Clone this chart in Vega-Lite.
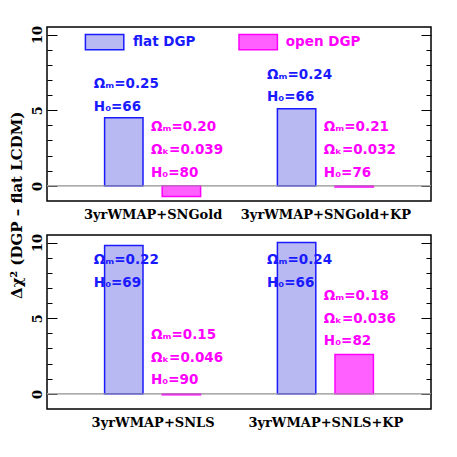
{
  "$schema": "https://vega.github.io/schema/vega-lite/v6.json",
  "padding": {"left": 10, "top": 24, "right": 5, "bottom": 5},
  "title": {"text": "Δχ² (DGP – flat LCDM)", "orient": "left", "anchor": "middle", "font": "DejaVu Serif", "fontSize": 15, "fontWeight": "bold", "color": "black", "offset": 5, "dx": 22},
  "config": {
    "view": {"stroke": "black", "strokeWidth": 1.5},
    "axis": {"grid": false, "domain": false, "tickColor": "black", "labelColor": "black", "labelFont": "DejaVu Serif", "labelFontWeight": "bold", "labelFontSize": 13}
  },
  "spacing": 10,
  "vconcat": [
    {
      "width": 384, "height": 174,
      "resolve": {"axis": {"y": "independent"}},
      "layer": [
        {
          "data": {"values": [{"z": 0}]},
          "mark": {"type": "rule", "color": "#a0a0a0", "strokeWidth": 1},
          "encoding": {
            "y": {"field": "z", "type": "quantitative", "scale": {"domain": [-1, 10.5], "nice": false, "zero": false},
                  "axis": {"orient": "left", "values": [0, 1, 2, 3, 4, 5, 6, 7, 8, 9, 10],
                           "tickSize": {"condition": {"test": "datum.value % 5 === 0", "value": -10}, "value": -5},
                           "labelExpr": "datum.value % 5 === 0 ? datum.label : ''",
                           "labelAngle": -90, "labelPadding": 13, "title": null}}
          }
        },
        {
          "data": {"values": [
            {"grp": "flat", "x0": 1.5, "x1": 2.5, "v": 4.5},
            {"grp": "open", "x0": 3.0, "x1": 4.0, "v": -0.7},
            {"grp": "flat", "x0": 6.0, "x1": 7.0, "v": 5.1},
            {"grp": "open", "x0": 7.5, "x1": 8.5, "v": -0.08}
          ]},
          "mark": {"type": "rect", "strokeWidth": 1.5},
          "encoding": {
            "x": {"field": "x0", "type": "quantitative", "scale": {"domain": [0, 10], "nice": false},
                  "axis": {"orient": "bottom", "values": [2.75, 7.25], "ticks": false, "labelPadding": 7, "title": null,
                           "labelExpr": "datum.value < 5 ? '3yrWMAP+SNGold' : '3yrWMAP+SNGold+KP'"}},
            "x2": {"field": "x1"},
            "y": {"field": "v", "type": "quantitative", "axis": null},
            "y2": {"datum": 0},
            "fill": {"field": "grp", "type": "nominal", "scale": {"domain": ["flat", "open"], "range": ["#b8b8f2", "#ff60ff"]}, "legend": null},
            "stroke": {"field": "grp", "type": "nominal", "scale": {"domain": ["flat", "open"], "range": ["#1a1aff", "#ff00ff"]}, "legend": null}
          }
        },
        {
          "data": {"values": [
            {"grp": "flat", "x0": 1.0, "x1": 2.0, "y0": 9.0, "y1": 10.0},
            {"grp": "open", "x0": 5.0, "x1": 6.0, "y0": 9.0, "y1": 10.0}
          ]},
          "mark": {"type": "rect", "strokeWidth": 1.5},
          "encoding": {
            "x": {"field": "x0", "type": "quantitative"},
            "x2": {"field": "x1"},
            "y": {"field": "y0", "type": "quantitative", "axis": null},
            "y2": {"field": "y1"},
            "fill": {"field": "grp", "type": "nominal", "legend": null},
            "stroke": {"field": "grp", "type": "nominal", "legend": null}
          }
        },
        {
          "data": {"values": [
            {"grp": "flat", "x": 2.24, "y": 9.5, "t": "flat DGP"},
            {"grp": "open", "x": 6.22, "y": 9.5, "t": "open DGP"},
            {"grp": "flat", "x": 1.22, "y": 6.75, "t": "Ωₘ=0.25"},
            {"grp": "flat", "x": 1.22, "y": 5.23, "t": "H₀=66"},
            {"grp": "open", "x": 2.71, "y": 3.89, "t": "Ωₘ=0.20"},
            {"grp": "open", "x": 2.71, "y": 2.38, "t": "Ωₖ=0.039"},
            {"grp": "open", "x": 2.71, "y": 0.88, "t": "H₀=80"},
            {"grp": "flat", "x": 5.73, "y": 7.35, "t": "Ωₘ=0.24"},
            {"grp": "flat", "x": 5.73, "y": 5.87, "t": "H₀=66"},
            {"grp": "open", "x": 7.21, "y": 3.89, "t": "Ωₘ=0.21"},
            {"grp": "open", "x": 7.21, "y": 2.38, "t": "Ωₖ=0.032"},
            {"grp": "open", "x": 7.21, "y": 0.88, "t": "H₀=76"}
          ]},
          "mark": {"type": "text", "align": "left", "baseline": "middle", "font": "DejaVu Sans", "fontWeight": "bold", "fontSize": 13.5},
          "encoding": {
            "x": {"field": "x", "type": "quantitative"},
            "y": {"field": "y", "type": "quantitative", "axis": null},
            "text": {"field": "t"},
            "color": {"field": "grp", "type": "nominal", "scale": {"domain": ["flat", "open"], "range": ["#1a1aff", "#ff00ff"]}, "legend": null}
          }
        },
        {
          "data": {"values": [{"z": 0}]},
          "mark": {"type": "rule", "color": "#a0a0a0", "strokeWidth": 1},
          "encoding": {
            "y": {"field": "z", "type": "quantitative",
                  "axis": {"orient": "right", "values": [0, 1, 2, 3, 4, 5, 6, 7, 8, 9, 10],
                           "tickSize": {"condition": {"test": "datum.value % 5 === 0", "value": -10}, "value": -5},
                           "labels": false, "title": null}}
          }
        }
      ]
    },
    {
      "width": 384, "height": 174,
      "resolve": {"axis": {"y": "independent"}},
      "layer": [
        {
          "data": {"values": [{"z": 0}]},
          "mark": {"type": "rule", "color": "#a0a0a0", "strokeWidth": 1},
          "encoding": {
            "y": {"field": "z", "type": "quantitative", "scale": {"domain": [-1, 10.5], "nice": false, "zero": false},
                  "axis": {"orient": "left", "values": [0, 1, 2, 3, 4, 5, 6, 7, 8, 9, 10],
                           "tickSize": {"condition": {"test": "datum.value % 5 === 0", "value": -10}, "value": -5},
                           "labelExpr": "datum.value % 5 === 0 ? datum.label : ''",
                           "labelAngle": -90, "labelPadding": 13, "title": null}}
          }
        },
        {
          "data": {"values": [
            {"grp": "flat", "x0": 1.5, "x1": 2.5, "v": 9.8},
            {"grp": "open", "x0": 3.0, "x1": 4.0, "v": -0.06},
            {"grp": "flat", "x0": 6.0, "x1": 7.0, "v": 10.0},
            {"grp": "open", "x0": 7.5, "x1": 8.5, "v": 2.6}
          ]},
          "mark": {"type": "rect", "strokeWidth": 1.5},
          "encoding": {
            "x": {"field": "x0", "type": "quantitative", "scale": {"domain": [0, 10], "nice": false},
                  "axis": {"orient": "bottom", "values": [2.75, 7.25], "ticks": false, "labelPadding": 7, "title": null,
                           "labelExpr": "datum.value < 5 ? '3yrWMAP+SNLS' : '3yrWMAP+SNLS+KP'"}},
            "x2": {"field": "x1"},
            "y": {"field": "v", "type": "quantitative", "axis": null},
            "y2": {"datum": 0},
            "fill": {"field": "grp", "type": "nominal", "scale": {"domain": ["flat", "open"], "range": ["#b8b8f2", "#ff60ff"]}, "legend": null},
            "stroke": {"field": "grp", "type": "nominal", "scale": {"domain": ["flat", "open"], "range": ["#1a1aff", "#ff00ff"]}, "legend": null}
          }
        },
        {
          "data": {"values": [
            {"grp": "flat", "x": 1.22, "y": 8.84, "t": "Ωₘ=0.22"},
            {"grp": "flat", "x": 1.22, "y": 7.34, "t": "H₀=69"},
            {"grp": "open", "x": 2.71, "y": 3.88, "t": "Ωₘ=0.15"},
            {"grp": "open", "x": 2.71, "y": 2.40, "t": "Ωₖ=0.046"},
            {"grp": "open", "x": 2.71, "y": 0.90, "t": "H₀=90"},
            {"grp": "flat", "x": 5.73, "y": 8.84, "t": "Ωₘ=0.24"},
            {"grp": "flat", "x": 5.73, "y": 7.34, "t": "H₀=66"},
            {"grp": "open", "x": 7.21, "y": 6.46, "t": "Ωₘ=0.18"},
            {"grp": "open", "x": 7.21, "y": 4.98, "t": "Ωₖ=0.036"},
            {"grp": "open", "x": 7.21, "y": 3.50, "t": "H₀=82"}
          ]},
          "mark": {"type": "text", "align": "left", "baseline": "middle", "font": "DejaVu Sans", "fontWeight": "bold", "fontSize": 13.5},
          "encoding": {
            "x": {"field": "x", "type": "quantitative"},
            "y": {"field": "y", "type": "quantitative", "axis": null},
            "text": {"field": "t"},
            "color": {"field": "grp", "type": "nominal", "scale": {"domain": ["flat", "open"], "range": ["#1a1aff", "#ff00ff"]}, "legend": null}
          }
        },
        {
          "data": {"values": [{"z": 0}]},
          "mark": {"type": "rule", "color": "#a0a0a0", "strokeWidth": 1},
          "encoding": {
            "y": {"field": "z", "type": "quantitative",
                  "axis": {"orient": "right", "values": [0, 1, 2, 3, 4, 5, 6, 7, 8, 9, 10],
                           "tickSize": {"condition": {"test": "datum.value % 5 === 0", "value": -10}, "value": -5},
                           "labels": false, "title": null}}
          }
        }
      ]
    }
  ]
}
